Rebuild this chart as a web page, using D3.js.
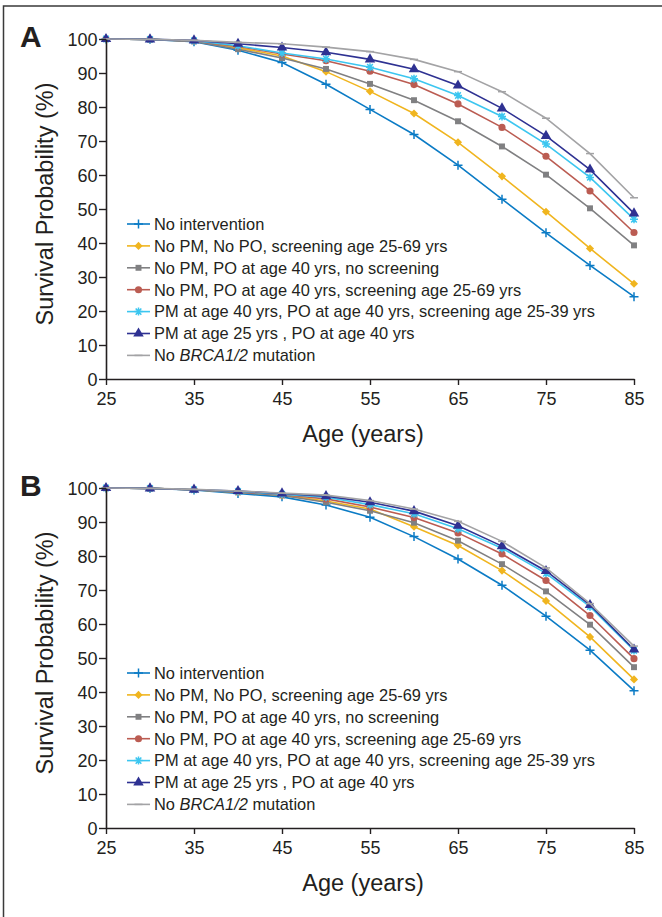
<!DOCTYPE html>
<html>
<head>
<meta charset="utf-8">
<script src="https://cdn.jsdelivr.net/npm/d3@7"></script>
<style>
  body { margin: 0; background: #fff; }
  svg text { font-family: "Liberation Sans", Arial, sans-serif; fill: #231f20; }
</style>
</head>
<body>
<div id="chart"></div>
<script>
// ages on the x axis
const ages = [25, 30, 35, 40, 45, 50, 55, 60, 65, 70, 75, 80, 85];
const xTicks = [25, 35, 45, 55, 65, 75, 85];
const yTicks = [0, 10, 20, 30, 40, 50, 60, 70, 80, 90, 100];

const seriesLabels = [
  "No intervention",
  "No PM, No PO, screening age 25-69 yrs",
  "No PM, PO at age 40 yrs, no screening",
  "No PM, PO at age 40 yrs, screening age 25-69 yrs",
  "PM at age 40 yrs, PO at age 40 yrs, screening age 25-39 yrs",
  "PM at age 25 yrs , PO at age 40 yrs",
  "No BRCA1/2 mutation"
];

// panel A (survival %)
const aNoIntervention = [100, 99.9, 99.2, 96.7, 93.1, 86.7, 79.3, 71.9, 62.9, 52.9, 43.0, 33.4, 24.2];
const aNoPmNoPo      = [100, 99.9, 99.4, 97.4, 95.0, 90.4, 84.6, 78.1, 69.6, 59.6, 49.2, 38.4, 28.0];
const aPoNoScreen    = [100, 99.9, 99.3, 97.0, 94.4, 91.2, 86.8, 82.0, 75.8, 68.4, 60.1, 50.2, 39.3];
const aPoScreen      = [100, 99.9, 99.4, 97.8, 95.6, 93.6, 90.5, 86.6, 80.9, 74.0, 65.5, 55.3, 43.1];
const aPm40Po40      = [100, 99.9, 99.5, 98.0, 95.9, 94.1, 91.7, 88.3, 83.4, 77.2, 69.1, 59.3, 47.0];
const aPm25Po40      = [100, 99.9, 99.6, 98.6, 97.5, 96.1, 94.0, 91.1, 86.3, 79.6, 71.5, 61.6, 48.7];
const aNoMutation    = [100, 99.9, 99.6, 99.0, 98.6, 97.6, 96.3, 94.0, 90.4, 84.5, 76.7, 66.3, 53.3];

// panel B (survival %)
const bNoIntervention = [100, 99.9, 99.4, 98.4, 97.4, 95.0, 91.4, 85.7, 79.1, 71.4, 62.3, 52.3, 40.4];
const bNoPmNoPo      = [100, 99.9, 99.5, 98.8, 97.9, 96.2, 93.8, 88.6, 83.1, 75.7, 66.8, 56.2, 43.7];
const bPoNoScreen    = [100, 99.9, 99.5, 98.7, 97.8, 95.8, 93.3, 89.8, 84.5, 77.6, 69.6, 59.8, 47.3];
const bPoScreen      = [100, 99.9, 99.5, 98.9, 98.1, 96.8, 94.4, 91.3, 86.8, 80.6, 72.8, 62.5, 49.8];
const bPm40Po40      = [100, 99.9, 99.5, 99.0, 98.2, 97.3, 95.1, 92.4, 88.0, 82.3, 74.9, 65.1, 52.2];
const bPm25Po40      = [100, 99.9, 99.5, 99.1, 98.4, 97.6, 95.8, 93.2, 88.9, 82.9, 75.6, 65.6, 52.5];
const bNoMutation    = [100, 99.9, 99.6, 99.1, 98.5, 97.9, 96.3, 93.8, 90.2, 84.3, 76.5, 66.0, 53.5];

const colors  = ["#0b7bc5", "#f0b51f", "#808082", "#bb5c52", "#3cc6f0", "#2e3192", "#a3a3a5"];
const markers = ["plus", "diamond", "square", "circle", "star", "triangle", "dash"];

const width = 662, height = 917;
const svg = d3.select("#chart").append("svg")
  .attr("width", width).attr("height", height);

// frame (left + top edges visible)
svg.append("path")
  .attr("d", `M3.5,${height}V6H${width}`)
  .attr("fill", "none").attr("stroke", "#3a3a3a").attr("stroke-width", 1.5);

const x = d3.scaleLinear().domain([25, 85]).range([106, 634]);

function markerPath(type) {
  if (type === "plus") return "M-4.5,0H4.5M0,-4.5V4.5";
  if (type === "star") return "M-4,0H4M-2.8,-3.2L2.8,3.2M-2.8,3.2L2.8,-3.2M0,-4V4";
  if (type === "dash") return "M-4,0H4";
  if (type === "diamond") return d3.symbol(d3.symbolDiamond2, 42)();
  if (type === "square") return d3.symbol(d3.symbolSquare2, 45)();
  if (type === "circle") return d3.symbol(d3.symbolCircle, 40)();
  return d3.symbol(d3.symbolTriangle, 48)();
}

function drawMarker(sel, i) {
  const stroked = ["plus", "star", "dash"].includes(markers[i]);
  sel.attr("d", markerPath(markers[i]))
    .attr("fill", stroked ? "none" : colors[i])
    .attr("stroke", stroked ? colors[i] : "none")
    .attr("stroke-width", stroked ? 1.5 : 0);
}

function drawPanel(letter, top, series) {
  const y = d3.scaleLinear().domain([0, 100]).range([top + 340, top]);
  const g = svg.append("g");

  const line = d3.line().x((d, i) => x(ages[i])).y(d => y(d));

  series.forEach((vals, i) => {
    g.append("path").datum(vals)
      .attr("d", line)
      .attr("fill", "none")
      .attr("stroke", colors[i])
      .attr("stroke-width", 1.6);
    g.selectAll(null).data(vals).enter().append("path")
      .attr("transform", (d, j) => `translate(${x(ages[j])},${y(d)})`)
      .call(drawMarker, i);
  });

  const yAxis = g.append("g")
    .attr("transform", "translate(106,0)")
    .call(d3.axisLeft(y).tickValues(yTicks).tickSize(7).tickSizeOuter(0).tickPadding(1.5));
  const xAxis = g.append("g")
    .attr("transform", `translate(0,${top + 340})`)
    .call(d3.axisBottom(x).tickValues(xTicks).tickSize(6).tickSizeOuter(0).tickPadding(7));

  [yAxis, xAxis].forEach(a => {
    a.select(".domain").attr("stroke", "#231f20").attr("stroke-width", 1.6);
    a.selectAll(".tick line").attr("stroke", "#231f20").attr("stroke-width", 1.4);
    a.selectAll(".tick text")
      .attr("fill", "#231f20")
      .style("font-size", "18px")
      .style("font-family", '"Liberation Sans", Arial, sans-serif');
  });
  yAxis.selectAll(".tick text").attr("dy", "0.34em");

  // axis titles
  g.append("text")
    .attr("transform", `translate(53,${top + 165}) rotate(-90)`)
    .attr("text-anchor", "middle")
    .style("font-size", "23.5px")
    .text("Survival Probability (%)");
  g.append("text")
    .attr("x", 363).attr("y", top + 403)
    .attr("text-anchor", "middle")
    .style("font-size", "23.5px")
    .text("Age (years)");

  // panel letter
  g.append("text")
    .attr("x", 20).attr("y", top + 8)
    .style("font-size", "30px").style("font-weight", "bold")
    .text(letter);

  // legend
  const legend = g.append("g").attr("transform", `translate(0,${top + 185})`);
  seriesLabels.forEach((lab, i) => {
    const row = legend.append("g").attr("transform", `translate(0,${i * 21.9})`);
    row.append("line")
      .attr("x1", 127).attr("x2", 150)
      .attr("stroke", colors[i]).attr("stroke-width", 1.6);
    row.append("path").attr("transform", "translate(138.5,0)").call(drawMarker, i);
    const t = row.append("text")
      .attr("x", 154).attr("y", 5.8)
      .style("font-size", "16.4px");
    if (lab.includes("BRCA1/2")) {
      t.append("tspan").text("No ");
      t.append("tspan").style("font-style", "italic").text("BRCA1/2");
      t.append("tspan").text(" mutation");
    } else {
      t.text(lab);
    }
  });
}

drawPanel("A", 39, [aNoIntervention, aNoPmNoPo, aPoNoScreen, aPoScreen, aPm40Po40, aPm25Po40, aNoMutation]);
drawPanel("B", 488, [bNoIntervention, bNoPmNoPo, bPoNoScreen, bPoScreen, bPm40Po40, bPm25Po40, bNoMutation]);
</script>
</body>
</html>
